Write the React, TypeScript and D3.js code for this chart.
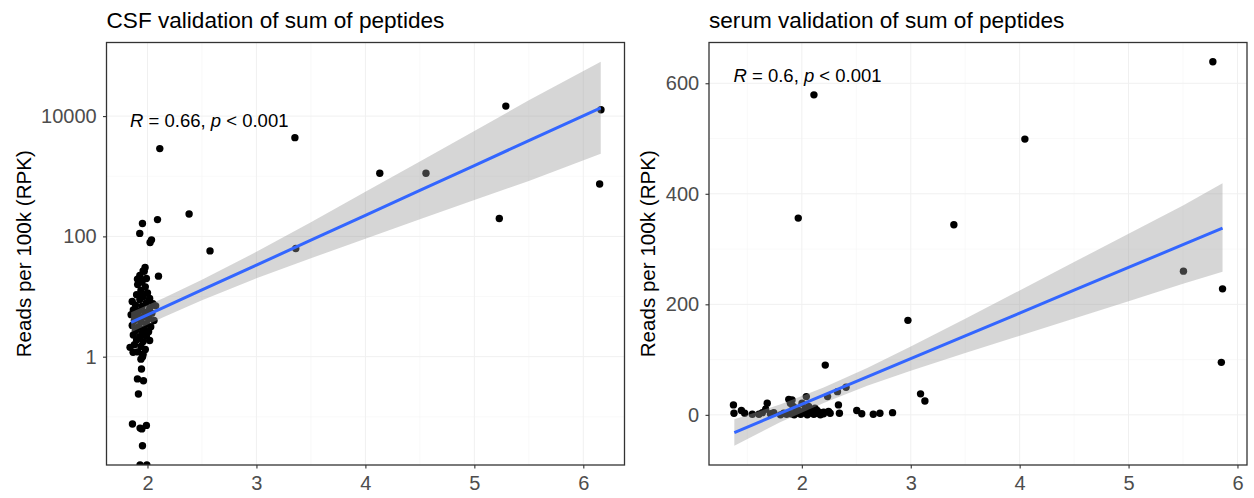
import React, { useEffect, useRef } from 'react';
import * as d3 from 'd3';

// ---- data ----
// CSF panel: [score, reads per 100k]; a 0 is drawn on the bottom edge (ggplot's -Inf on a log axis)
const csfPoints: [number, number][] = [
  [2.113, 2880], [3.353, 4380], [4.132, 1120], [4.556, 1120], [5.289, 14650], [6.162, 12770],
  [6.15, 743], [5.229, 198], [2.382, 236], [2.574, 57.4], [3.361, 63], [2.092, 190],
  [1.954, 164], [1.929, 112], [2.037, 87.5], [2.024, 79], [2.101, 21.8], [1.978, 30.5],
  [1.96, 26.7], [1.908, 19.5], [1.939, 18.3],
  [1.97, 26.3], [1.93, 22.4], [1.99, 20.0], [1.95, 17.4], [1.91, 15.8], [1.98, 14.5],
  [1.94, 12.6], [2.0, 11.5], [1.9, 10.7], [1.96, 10.0], [2.02, 9.3], [1.93, 8.9],
  [1.86, 8.3], [1.99, 7.9], [2.05, 7.6], [1.89, 7.2], [1.95, 6.9], [2.075, 7.0],
  [2.02, 6.3], [1.87, 6.0], [1.92, 5.75], [1.98, 5.5], [2.04, 5.25], [1.85, 5.0],
  [1.9, 4.8], [1.96, 4.6], [2.01, 4.3], [1.88, 4.0], [1.94, 3.8], [2.06, 4.0],
  [1.99, 3.55], [1.86, 3.3], [1.92, 3.16], [2.03, 3.16], [1.97, 2.9], [1.89, 2.7],
  [1.95, 2.5], [2.01, 2.6], [1.87, 2.3], [1.93, 2.15], [1.99, 2.2], [1.9, 1.9],
  [1.96, 1.78], [2.02, 1.86], [1.88, 1.58], [1.94, 1.48], [1.98, 1.32], [1.91, 1.2],
  [1.96, 1.1],
  [1.84, 1.43], [1.868, 1.18], [1.94, 0.91], [1.955, 1.0], [1.945, 0.625], [1.908, 0.427],
  [1.963, 0.398], [1.917, 0.24], [1.862, 0.076], [1.932, 0.065], [1.948, 0.063], [1.99, 0.072],
  [1.954, 0.033], [1.932, 0], [1.994, 0],
];

// CSF fit (log10 scale) and its confidence band
const csfFitX = [1.85, 2.15, 2.5, 3.0, 3.5, 4.0, 4.5, 5.0, 5.5, 6.16];
const csfFit = [3.72, 6.59, 12.85, 33.3, 86.3, 224, 581, 1507, 3908, 13740];
const csfUpper = [5.46, 9.46, 19.0, 55.3, 172, 550, 1754, 5662, 18280, 80170];
const csfLower = [2.54, 4.59, 8.69, 20.1, 43.3, 91.2, 192, 401, 836, 2355];

// serum panel
const serumPoints: [number, number][] = [
  [1.372, 18], [1.377, 3], [1.445, 8], [1.475, 3], [1.545, 1], [1.606, 1], [1.637, 4],
  [1.682, 21], [1.667, 10], [1.712, 2], [1.742, 4], [1.804, 0], [1.834, 3], [1.88, 28],
  [1.895, 21], [1.91, 27], [1.94, 12], [1.971, 3], [2.002, 21], [2.041, 33], [2.062, 15],
  [2.093, 3], [2.139, 3], [2.169, 4], [2.199, 2], [2.236, 33], [2.245, 6], [2.26, 3],
  [2.327, 42], [2.336, 18], [2.345, 3], [2.406, 50], [2.504, 8], [2.55, 2], [2.656, 1],
  [2.717, 3], [2.833, 4], [3.09, 38], [3.13, 25],
  [1.86, 1], [1.9, 2], [1.93, 0], [1.96, 5], [1.99, 1], [2.02, 4], [2.05, 0], [2.08, 6],
  [2.11, 1], [2.14, 8], [2.17, 0], [2.2, 5], [2.03, 10], [1.92, 15], [1.97, 8], [2.12, 12],
  [2.111, 579], [1.967, 356], [4.048, 499], [3.396, 344], [2.974, 171], [2.215, 90],
  [5.774, 639], [5.504, 260], [5.863, 228], [5.852, 95],
];

const serumFitX = [1.38, 1.8, 2.2, 2.6, 3.0, 3.5, 4.0, 4.5, 5.0, 5.5, 5.863];
const serumFit = [-32, 2.6, 35.6, 68.6, 101.6, 143, 184, 225.5, 266.7, 308, 338];
const serumUpper = [-8, 18.6, 49.6, 84.6, 123.6, 174, 225, 276.5, 327.7, 379, 419];
const serumLower = [-56, -13.4, 21.6, 52.6, 79.6, 112, 143, 174.5, 205.7, 237, 259];

const xTicks = [2, 3, 4, 5, 6];
const xMinorTicks = [1.5, 2.5, 3.5, 4.5, 5.5];
const csfYTicks = [1, 100, 10000];
const csfYMinor = [0.1, 10, 1000];
const serumYTicks = [0, 200, 400, 600];
const serumYMinor = [100, 300, 500];

const WIDTH = 1254;
const HEIGHT = 498;
const TOP = 42.5;
const BOTTOM = 465;
const FONT = '"Liberation Sans", Arial, Helvetica, sans-serif';

interface PanelSpec {
  id: string;
  title: string;
  left: number;
  right: number;
  yTitleX: number;
  log: boolean;
  points: [number, number][];
  fitX: number[];
  fit: number[];
  lower: number[];
  upper: number[];
  yTicks: number[];
  yMinor: number[];
  r: string;
}

const panels: PanelSpec[] = [
  {
    id: 'csf', title: 'CSF validation of sum of peptides', left: 106.5, right: 624.5, yTitleX: 31,
    log: true, points: csfPoints, fitX: csfFitX, fit: csfFit, lower: csfLower, upper: csfUpper,
    yTicks: csfYTicks, yMinor: csfYMinor, r: '0.66',
  },
  {
    id: 'serum', title: 'serum validation of sum of peptides', left: 709, right: 1247, yTitleX: 655,
    log: false, points: serumPoints, fitX: serumFitX, fit: serumFit, lower: serumLower, upper: serumUpper,
    yTicks: serumYTicks, yMinor: serumYMinor, r: '0.6',
  },
];

function drawPanel(svg: d3.Selection<SVGSVGElement, unknown, null, undefined>, p: PanelSpec) {
  const xs = p.points.map(d => d[0]).concat(p.fitX);
  const [xa, xb] = d3.extent(xs) as [number, number];
  const xpad = (xb - xa) * 0.05;
  const x = d3.scaleLinear().domain([xa - xpad, xb + xpad]).range([p.left, p.right]);

  const ys = p.points.map(d => d[1]).filter(v => !p.log || v > 0).concat(p.lower, p.upper);
  let y: any;
  if (p.log) {
    const [la, lb] = d3.extent(ys.map(Math.log10)) as [number, number];
    const pad = (lb - la) * 0.05;
    y = d3.scaleLog().domain([10 ** (la - pad), 10 ** (lb + pad)]).range([BOTTOM, TOP]);
  } else {
    const [ya, yb] = d3.extent(ys) as [number, number];
    const pad = (yb - ya) * 0.05;
    y = d3.scaleLinear().domain([ya - pad, yb + pad]).range([BOTTOM, TOP]);
  }
  const yPos = (v: number) => (p.log && v <= 0 ? BOTTOM : y(v));

  const [xd0, xd1] = x.domain();
  const g = svg.append('g');

  // clip to the panel
  g.append('clipPath')
    .attr('id', `clip-${p.id}`)
    .append('rect')
    .attr('x', p.left).attr('y', TOP)
    .attr('width', p.right - p.left).attr('height', BOTTOM - TOP);

  // grid (very faint, as in theme_bw exported at this size)
  const grid = g.append('g');
  grid.selectAll('.xminor')
    .data(xMinorTicks.filter(t => t > xd0 && t < xd1))
    .enter().append('line')
    .attr('x1', d => x(d)).attr('x2', d => x(d))
    .attr('y1', TOP).attr('y2', BOTTOM)
    .style('stroke', '#F5F5F5').style('stroke-width', 0.6);
  grid.selectAll('.yminor')
    .data(p.yMinor)
    .enter().append('line')
    .attr('x1', p.left).attr('x2', p.right)
    .attr('y1', d => y(d)).attr('y2', d => y(d))
    .style('stroke', '#F5F5F5').style('stroke-width', 0.6);
  grid.selectAll('.xmajor')
    .data(xTicks)
    .enter().append('line')
    .attr('x1', d => x(d)).attr('x2', d => x(d))
    .attr('y1', TOP).attr('y2', BOTTOM)
    .style('stroke', '#F0F0F0').style('stroke-width', 1);
  grid.selectAll('.ymajor')
    .data(p.yTicks)
    .enter().append('line')
    .attr('x1', p.left).attr('x2', p.right)
    .attr('y1', d => y(d)).attr('y2', d => y(d))
    .style('stroke', '#F0F0F0').style('stroke-width', 1);

  const plot = g.append('g').attr('clip-path', `url(#clip-${p.id})`);

  // points
  plot.selectAll('circle')
    .data(p.points)
    .enter().append('circle')
    .attr('cx', d => x(d[0]))
    .attr('cy', d => yPos(d[1]))
    .attr('r', 3.7)
    .style('fill', '#000');

  // confidence band on top of the points, then the fit line
  const idx = d3.range(p.fitX.length);
  const band = d3.area<number>()
    .x(i => x(p.fitX[i]))
    .y0(i => y(p.lower[i]))
    .y1(i => y(p.upper[i]));
  plot.append('path')
    .attr('d', band(idx))
    .style('fill', '#999999')
    .style('fill-opacity', 0.4);

  const line = d3.line<number>()
    .x(i => x(p.fitX[i]))
    .y(i => y(p.fit[i]));
  plot.append('path')
    .attr('d', line(idx))
    .style('fill', 'none')
    .style('stroke', '#3366FF')
    .style('stroke-width', 3);

  // border
  g.append('rect')
    .attr('x', p.left).attr('y', TOP)
    .attr('width', p.right - p.left).attr('height', BOTTOM - TOP)
    .style('fill', 'none')
    .style('stroke', '#333333')
    .style('stroke-width', 1.3);

  // axes
  const xAxis = d3.axisBottom(x).tickValues(xTicks).tickSize(3.5).tickPadding(7.5)
    .tickFormat(d3.format('d') as any);
  const xg = g.append('g').attr('transform', `translate(0,${BOTTOM})`).call(xAxis);
  const yFormat = p.log ? (d: any) => String(d) : d3.format('d');
  const yAxis = d3.axisLeft(y).tickValues(p.yTicks).tickSize(3.5).tickPadding(6.3)
    .tickFormat(yFormat as any);
  const yg = g.append('g').attr('transform', `translate(${p.left},0)`).call(yAxis);

  [xg, yg].forEach(ax => {
    ax.select('.domain').remove();
    ax.selectAll('.tick line').style('stroke', '#333333').style('stroke-width', 1.1);
    ax.selectAll('.tick text')
      .style('fill', '#4D4D4D')
      .style('font-family', FONT)
      .style('font-size', '20px');
  });

  // titles
  g.append('text')
    .attr('x', p.left)
    .attr('y', 28.3)
    .style('font-family', FONT)
    .style('font-size', '22.6px')
    .style('fill', '#000')
    .text(p.title);

  g.append('text')
    .attr('transform', `translate(${p.yTitleX},${(TOP + BOTTOM) / 2}) rotate(-90)`)
    .attr('text-anchor', 'middle')
    .style('font-family', FONT)
    .style('font-size', '20.6px')
    .style('fill', '#000')
    .text('Reads per 100k (RPK)');

  // correlation label
  const minX = d3.min(p.points, d => d[0]) as number;
  const maxY = d3.max(p.points, d => d[1]) as number;
  const label = g.append('text')
    .attr('x', x(minX))
    .attr('y', y(maxY) + 20.5)
    .style('font-family', FONT)
    .style('font-size', '18.5px')
    .style('fill', '#000');
  label.append('tspan').style('font-style', 'italic').text('R');
  label.append('tspan').text(` = ${p.r}, `);
  label.append('tspan').style('font-style', 'italic').text('p');
  label.append('tspan').text(' < 0.001');
}

export default function App() {
  const svgRef = useRef<SVGSVGElement>(null);

  useEffect(() => {
    if (!svgRef.current) return;
    const svg = d3.select(svgRef.current);
    svg.selectAll('*').remove();
    panels.forEach(p => drawPanel(svg, p));
  }, []);

  return (
    <div style={{ position: 'absolute', left: 0, top: 0 }}>
      <svg ref={svgRef} width={WIDTH} height={HEIGHT} style={{ display: 'block', background: '#fff' }} />
    </div>
  );
}
